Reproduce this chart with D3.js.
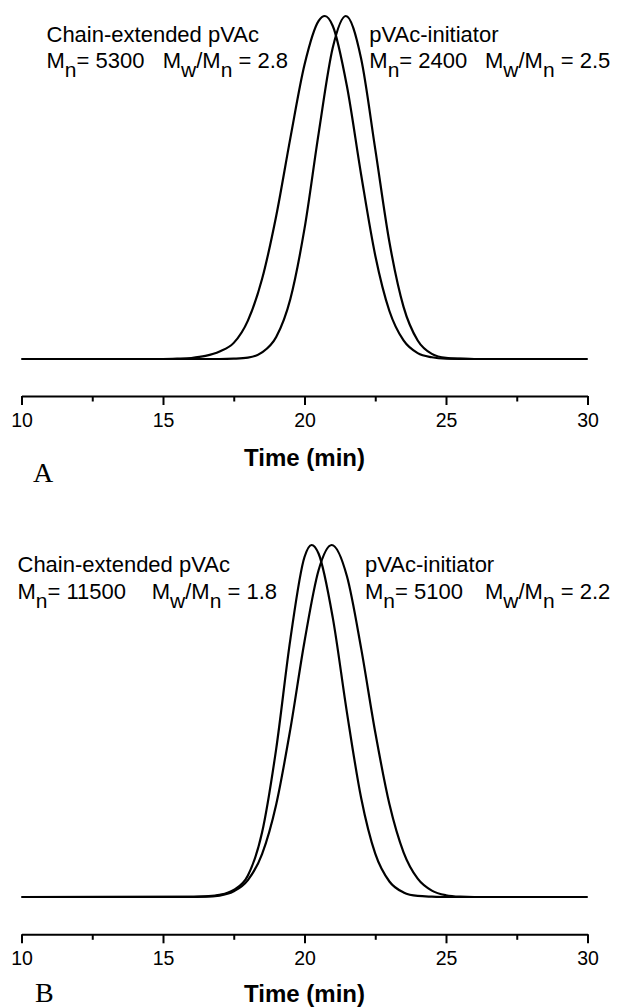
<!DOCTYPE html>
<html>
<head>
<meta charset="utf-8">
<script src="https://cdn.jsdelivr.net/npm/d3@7"></script>
<style>
  body { margin: 0; background: #fff; }
  svg { display: block; }
  text { fill: #000; }
</style>
</head>
<body>
<svg id="chart" width="618" height="1008"></svg>
<script>
// GPC traces: normalised detector response vs elution time (min)

// Panel A
const timeA_ext = [10, 15, 15.5, 16, 16.5, 17, 17.5, 18, 18.5, 19, 19.5, 20, 20.5, 20.72, 21, 21.5, 22, 22.5, 23, 23.5, 24, 24.5, 25, 26, 30];
const signalA_ext = [0, 0, 0.001, 0.003, 0.009, 0.022, 0.047, 0.112, 0.233, 0.417, 0.644, 0.858, 0.986, 1, 0.971, 0.795, 0.538, 0.302, 0.140, 0.054, 0.017, 0.005, 0.001, 0, 0];
const timeA_ini = [10, 17, 17.5, 18, 18.5, 19, 19.5, 20, 20.5, 21, 21.46, 22, 22.5, 23, 23.5, 24, 24.5, 25, 25.5, 26, 30];
const signalA_ini = [0, 0, 0.001, 0.004, 0.019, 0.064, 0.175, 0.380, 0.658, 0.908, 1, 0.876, 0.612, 0.341, 0.152, 0.054, 0.015, 0.0034, 0.001, 0, 0];

// Panel B
const timeB_ext = [10, 16, 16.5, 17, 17.5, 18, 18.5, 19, 19.5, 20, 20.25, 20.5, 21, 21.5, 22, 22.5, 23, 23.5, 24, 24.5, 25, 30];
const signalB_ext = [0, 0, 0.002, 0.006, 0.02, 0.061, 0.183, 0.421, 0.732, 0.966, 1, 0.975, 0.793, 0.524, 0.282, 0.123, 0.044, 0.013, 0.003, 0.001, 0, 0];
const timeB_ini = [10, 16.5, 17, 17.5, 18, 18.5, 19, 19.5, 20, 20.5, 20.96, 21.5, 22, 22.5, 23, 23.5, 24, 24.5, 25, 25.5, 26, 30];
const signalB_ini = [0, 0.001, 0.004, 0.016, 0.048, 0.122, 0.263, 0.477, 0.726, 0.929, 1, 0.911, 0.707, 0.468, 0.264, 0.127, 0.052, 0.018, 0.005, 0.001, 0, 0];

// Axis ticks
const majorTicks = [10, 15, 20, 25, 30];
const minorTicks = [12.5, 17.5, 22.5, 27.5];
const axisTitle = "Time (min)";
const panelLetters = ["A", "B"];

// Sample annotations
const sampleNames = ["Chain-extended pVAc", "pVAc-initiator"];
const MnA = [5300, 2400];
const pdiA = [2.8, 2.5];
const MnB = [11500, 5100];
const pdiB = [1.8, 2.2];

const SANS = '"Liberation Sans", Arial, Helvetica, sans-serif';
const SERIF = '"Liberation Serif", "Times New Roman", serif';

const svg = d3.select("#chart");

const panels = [
  {
    letter: panelLetters[0],
    series: [[timeA_ext, signalA_ext], [timeA_ini, signalA_ini]],
    Mn: MnA, pdi: pdiA,
    xRange: [21.5, 587.5], yRange: [359, 16],
    axisY: 396, titleY: 466, letterX: 33, letterY: 482,
    textLeftX: 46.5, textLeftMwX: 162.7, textRightX: 369.3, textRightMwX: 485,
    line1Y: 41.7, line2Y: 68.3
  },
  {
    letter: panelLetters[1],
    series: [[timeB_ext, signalB_ext], [timeB_ini, signalB_ini]],
    Mn: MnB, pdi: pdiB,
    xRange: [21.5, 587.5], yRange: [897, 545],
    axisY: 934.3, titleY: 1002, letterX: 35, letterY: 1002,
    textLeftX: 17.5, textLeftMwX: 151.7, textRightX: 365, textRightMwX: 485,
    line1Y: 572, line2Y: 598.5
  }
];

const SUB_SHIFT = 9;

// "M" followed by a subscript letter, then trailing text
function molText(g, x, y, pieces) {
  const t = g.append("text").attr("x", x).attr("y", y)
    .style("font-family", SANS).style("font-size", "22px");
  let shifted = false;
  pieces.forEach(([str, sub]) => {
    const ts = t.append("tspan").text(str);
    if (sub) ts.style("font-size", "21px");
    if (sub && !shifted) { ts.attr("dy", SUB_SHIFT); shifted = true; }
    else if (!sub && shifted) { ts.attr("dy", -SUB_SHIFT); shifted = false; }
  });
  return t;
}

panels.forEach(p => {
  const g = svg.append("g");
  const x = d3.scaleLinear().domain([10, 30]).range(p.xRange);
  const y = d3.scaleLinear().domain([0, 1]).range(p.yRange);

  const line = d3.line()
    .x(d => x(d[0]))
    .y(d => y(d[1]))
    .curve(d3.curveMonotoneX);

  p.series.forEach(([ts, vs]) => {
    g.append("path")
      .datum(ts.map((t, i) => [t, vs[i]]))
      .attr("d", line)
      .attr("fill", "none")
      .attr("stroke", "#000")
      .attr("stroke-width", 2.2)
      .attr("stroke-linejoin", "round");
  });

  // major ticks with labels
  const axMajor = g.append("g")
    .attr("transform", `translate(0,${p.axisY})`)
    .call(d3.axisBottom(x).tickValues(majorTicks).tickSize(9).tickSizeOuter(0).tickPadding(8).tickFormat(d3.format("d")));
  axMajor.select(".domain").attr("stroke", "#000").attr("stroke-width", 2);
  axMajor.selectAll(".tick line").attr("stroke", "#000").attr("stroke-width", 2);
  axMajor.selectAll(".tick text")
    .style("font-family", SANS)
    .style("font-size", "19.5px")
    .attr("fill", "#000");

  // minor ticks
  const axMinor = g.append("g")
    .attr("transform", `translate(0,${p.axisY})`)
    .call(d3.axisBottom(x).tickValues(minorTicks).tickSize(5.5).tickSizeOuter(0).tickFormat(""));
  axMinor.select(".domain").remove();
  axMinor.selectAll(".tick line").attr("stroke", "#000").attr("stroke-width", 2);

  g.append("text")
    .attr("x", x(20)).attr("y", p.titleY)
    .attr("text-anchor", "middle")
    .style("font-family", SANS)
    .style("font-size", "24px").style("font-weight", "bold")
    .text(axisTitle);

  g.append("text")
    .attr("x", p.letterX).attr("y", p.letterY)
    .style("font-family", SERIF)
    .style("font-size", "28px")
    .text(p.letter);

  // annotations
  const lx = [p.textLeftX, p.textRightX];
  const mwx = [p.textLeftMwX, p.textRightMwX];
  [0, 1].forEach(i => {
    g.append("text").attr("x", lx[i]).attr("y", p.line1Y)
      .style("font-family", SANS).style("font-size", "22px")
      .text(sampleNames[i]);
    molText(g, lx[i], p.line2Y, [["M", false], ["n", true], ["= " + p.Mn[i], false]]);
    molText(g, mwx[i], p.line2Y, [["M", false], ["w", true], ["/M", false], ["n", true], [" = " + p.pdi[i].toFixed(1), false]]);
  });
});
</script>
</body>
</html>
